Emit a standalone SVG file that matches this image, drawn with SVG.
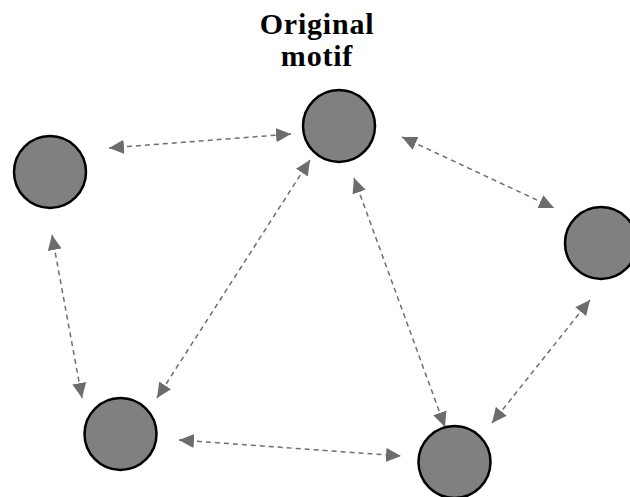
<svg xmlns="http://www.w3.org/2000/svg" width="630" height="497" viewBox="0 0 630 497">
  <defs>
    <marker id="head" markerUnits="userSpaceOnUse" markerWidth="16" markerHeight="15" refX="15" refY="7" orient="auto-start-reverse" viewBox="0 0 16 15">
      <path d="M0,0 L15,7 L0,14 z" fill="#6e6b6b"/>
    </marker>
  </defs>
  <style>
    .node { fill: #808080; stroke: #000; stroke-width: 2.5; }
    .edge { stroke: #6e6e6e; stroke-width: 1.5; stroke-dasharray: 5 4; fill: none; marker-start: url(#head); marker-end: url(#head); }
    .title { font-family: "Liberation Serif", "Times New Roman", serif; font-weight: bold; font-size: 30px; letter-spacing: 0.8px; fill: #000; text-anchor: middle; }
  </style>

  <text class="title" x="317" y="34">Original</text>
  <text class="title" x="317" y="66">motif</text>

  <g id="connectors">
    <line class="edge" x1="109" y1="148" x2="291" y2="134"/>
    <line class="edge" x1="402" y1="137" x2="554" y2="208"/>
    <line class="edge" x1="52" y1="235" x2="82" y2="398"/>
    <line class="edge" x1="310" y1="160" x2="157" y2="398"/>
    <line class="edge" x1="354" y1="178" x2="445" y2="427"/>
    <line class="edge" x1="179" y1="440" x2="401" y2="456"/>
    <line class="edge" x1="590" y1="300" x2="492" y2="423"/>
  </g>

  <g id="node-top"><circle class="node" cx="339" cy="126" r="36"/></g>
  <g id="node-left"><circle class="node" cx="50" cy="172" r="36"/></g>
  <g id="node-right"><circle class="node" cx="601" cy="243" r="36"/></g>
  <g id="node-bottom-left"><circle class="node" cx="120.5" cy="434" r="36"/></g>
  <g id="node-bottom-right"><circle class="node" cx="454.5" cy="462" r="36"/></g>
</svg>
